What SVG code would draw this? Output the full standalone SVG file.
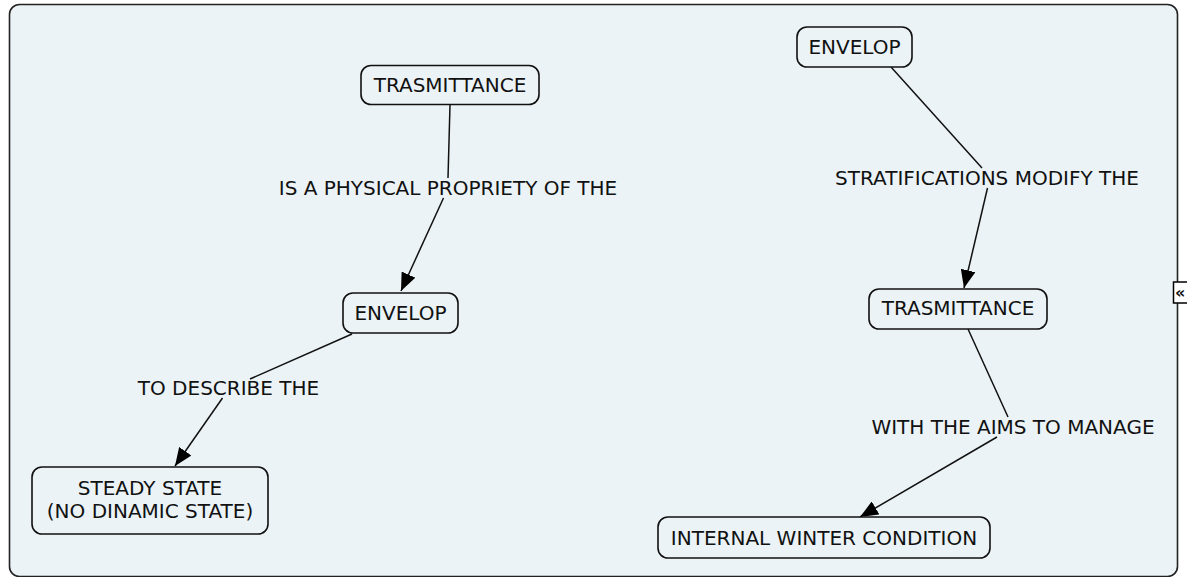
<svg xmlns="http://www.w3.org/2000/svg" width="1187" height="577" viewBox="0 0 1187 577">
  <style>
    .node rect { fill: #ebf3f6; stroke: #111; stroke-width: 1.6; }
    text { font-family: "DejaVu Sans", Verdana, sans-serif; font-size: 20px; fill: #111; text-anchor: middle; }
    .edge { stroke: #111; stroke-width: 1.5; fill: none; }
  </style>
  <defs>
    <marker id="arrow" markerUnits="userSpaceOnUse" markerWidth="18" markerHeight="15" refX="18" refY="7.5" orient="auto">
      <path d="M0,0 L18,7.5 L0,15 z" fill="#000"/>
    </marker>
  </defs>
  <rect width="1187" height="577" fill="#ffffff"/>
  <rect id="panel" x="9.5" y="4.5" width="1168" height="572" rx="10" fill="#ebf3f6" stroke="#222" stroke-width="1.6"/>
  <g id="collapse-icon">
    <rect x="1173.5" y="282" width="16" height="21" fill="#ffffff" stroke="#000" stroke-width="1.5"/>
    <text x="1175" y="298" style="font-size:16px;font-weight:bold;text-anchor:start;">«</text>
  </g>

  <g id="connectors">
    <line class="edge" x1="450" y1="105" x2="448" y2="178"/>
    <line class="edge" x1="443.5" y1="198" x2="401" y2="291" marker-end="url(#arrow)"/>
    <line class="edge" x1="352" y1="334" x2="250" y2="379"/>
    <line class="edge" x1="222.5" y1="398" x2="175" y2="466" marker-end="url(#arrow)"/>
    <line class="edge" x1="891" y1="67" x2="982" y2="168"/>
    <line class="edge" x1="987.5" y1="188" x2="964" y2="288" marker-end="url(#arrow)"/>
    <line class="edge" x1="968" y1="329" x2="1008" y2="417"/>
    <line class="edge" x1="997" y1="437" x2="860" y2="517" marker-end="url(#arrow)"/>
  </g>

  <g id="label-physical">
    <text x="448" y="195">IS A PHYSICAL PROPRIETY OF THE</text>
  </g>
  <g id="label-describe">
    <text x="228.5" y="395">TO DESCRIBE THE</text>
  </g>
  <g id="label-stratifications">
    <text x="987" y="185">STRATIFICATIONS MODIFY THE</text>
  </g>
  <g id="label-aims">
    <text x="1013" y="434">WITH THE AIMS TO MANAGE</text>
  </g>

  <g id="node-trasmittance-left" class="node">
    <rect x="361" y="65.5" width="178" height="39" rx="10"/>
    <text x="450" y="92">TRASMITTANCE</text>
  </g>
  <g id="node-envelop-left" class="node">
    <rect x="343" y="293" width="115" height="40" rx="10"/>
    <text x="400.5" y="319.5">ENVELOP</text>
  </g>
  <g id="node-steady-state" class="node">
    <rect x="32" y="467" width="236" height="67" rx="10"/>
    <text x="150" y="495">STEADY STATE</text>
    <text x="150" y="517.5">(NO DINAMIC STATE)</text>
  </g>
  <g id="node-envelop-right" class="node">
    <rect x="797" y="27" width="115" height="40" rx="10"/>
    <text x="854.5" y="53.5">ENVELOP</text>
  </g>
  <g id="node-trasmittance-right" class="node">
    <rect x="869" y="289" width="178" height="40" rx="10"/>
    <text x="958" y="315">TRASMITTANCE</text>
  </g>
  <g id="node-internal-winter" class="node">
    <rect x="658" y="517" width="332" height="41" rx="10"/>
    <text x="824" y="544.5">INTERNAL WINTER CONDITION</text>
  </g>
</svg>
